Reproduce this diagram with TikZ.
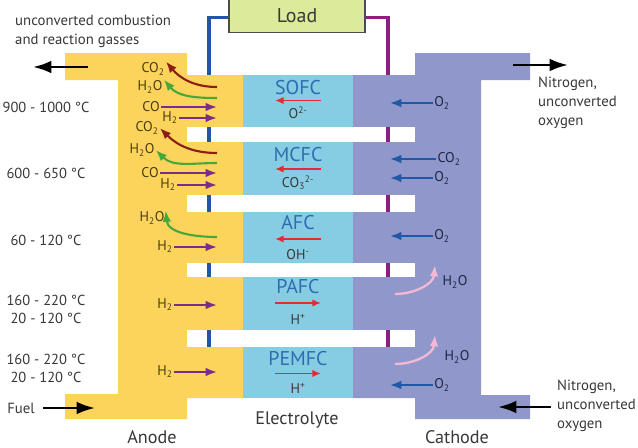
\documentclass[tikz,border=0pt]{standalone}
\usepackage{fontspec}
\setmainfont{PT Sans}
\usepackage{tikz}
\usetikzlibrary{arrows.meta,positioning,calc}
\definecolor{anodeyellow}{HTML}{FCD45C}
\definecolor{electroblue}{HTML}{86CDE3}
\definecolor{cathodeviolet}{HTML}{9097CB}
\definecolor{loadgreen}{HTML}{DCEA9C}
\definecolor{wireblue}{HTML}{1F56A6}
\definecolor{wirepurple}{HTML}{8B1E7E}
\definecolor{cellblue}{HTML}{2C6DB2}
\definecolor{ionred}{HTML}{E42A35}
\definecolor{fuelpurple}{HTML}{7A2D8C}
\definecolor{exhaustred}{HTML}{8A1E12}
\definecolor{watergreen}{HTML}{45A83A}
\definecolor{oxblue}{HTML}{2058A8}
\definecolor{steampink}{HTML}{F3B8D4}
\definecolor{textgray}{HTML}{383838}
\definecolor{anodetext}{HTML}{4A3D14}
\definecolor{cathodetext}{HTML}{1F2546}
\tikzstyle{plainlabel} = [font=\fontsize{12.6}{16.2}\selectfont, text=textgray, inner sep=0pt, align=left]
\tikzstyle{templabel} = [font=\fontsize{12.4}{15.5}\selectfont, text=textgray, inner sep=0pt, align=center]
\tikzstyle{partlabel} = [font=\fontsize{15.5}{17}\selectfont, text=textgray, inner sep=0pt]
\tikzstyle{cellname} = [font=\fontsize{17}{19}\selectfont, text=cellblue, inner sep=0pt]
\tikzstyle{ionlabel} = [font=\fontsize{12}{13}\selectfont, text=textgray, inner sep=0pt]
\tikzstyle{anchem} = [font=\fontsize{12}{13}\selectfont, text=anodetext, inner sep=1pt]
\tikzstyle{cachem} = [font=\fontsize{12}{13}\selectfont, text=cathodetext, inner sep=1pt]
\tikzstyle{loadbox} = [rectangle, draw=gray!60!black, line width=1pt, fill=loadgreen,
    minimum width=4.08cm, minimum height=1.2cm, inner ysep=0pt, text height=0.9cm,
    text depth=0.3cm, font=\fontsize{17}{19}\selectfont, text=textgray]
\tikzstyle{flowarrow} = [-{Latex[length=5.5mm,width=3.8mm]}, line width=2.2pt, black]
\tikzstyle{fuelin} = [-{Latex[length=3.4mm,width=2.6mm]}, line width=1.8pt, fuelpurple]
\tikzstyle{exhaust} = [-{Latex[length=3.4mm,width=2.6mm]}, line width=1.8pt, exhaustred]
\tikzstyle{water} = [-{Latex[length=3.4mm,width=2.6mm]}, line width=1.8pt, watergreen]
\tikzstyle{oxin} = [-{Latex[length=3.4mm,width=2.6mm]}, line width=1.8pt, oxblue]
\tikzstyle{steam} = [-{Latex[length=3.4mm,width=2.6mm]}, line width=2pt, steampink]
\tikzstyle{ionarrow} = [-{Latex[length=2.6mm,width=2.2mm]}, line width=1.4pt, ionred]
\tikzstyle{wire} = [line width=3pt]

\begin{document}
\begin{tikzpicture}[x=0.03cm, y=-0.03cm]
\useasboundingbox (0,0) rectangle (638,448);
\clip (0,0) rectangle (638,448);
\fill[white] (0,0) rectangle (638,448);

% anode, electrolyte, cathode
\fill[anodeyellow] (65,53) -- (187,53) -- (187,75) -- (243,75) -- (243,398) -- (187,398) -- (187,419)
    -- (65,419) -- (65,394) -- (118,394) -- (118,80) -- (65,80) -- cycle;
\fill[electroblue] (243,75) rectangle (353,398);
\fill[cathodeviolet] (353,75) -- (415,75) -- (415,53) -- (530,53) -- (530,80) -- (481,80) -- (481,395)
    -- (530,395) -- (530,419) -- (415,419) -- (415,398) -- (353,398) -- cycle;

% gaps between the cells
\foreach \ya/\yb in {127/142,195/212,263/277,330/347} {
  \fill[white] (187,\ya) rectangle (415,\yb);
  \draw[wire, wireblue] (209,\ya) -- (209,\yb);
  \draw[wire, wirepurple] (388,\ya) -- (388,\yb);
}

% load and wires
\node[loadbox, anchor=south] (load) at (297,33) {Load};
\coordinate (anodetop) at (209,75);
\coordinate (cathodetop) at (388,75);
\draw[wire, wireblue] ($(load.west)+(0,5)$) -| (anodetop);
\draw[wire, wirepurple] ($(load.east)+(0,5)$) -| (cathodetop);

% electrolyte
\foreach \nm/\ion/\yn/\yi/\dir [count=\i] in {SOFC/O\textsuperscript{2-}/88/113/-1,
    MCFC/CO\textsubscript{3}\textsuperscript{2-}/155/183/-1, AFC/OH\textsuperscript{-}/223/255/-1,
    PAFC/H\textsuperscript{+}/287/319/1, PEMFC/H\textsuperscript{+}/359/388/1} {
  \node[cellname] (cell\i) at (298,\yn) {\nm};
  \node[ionlabel] (ion\i) at (298,\yi) {\ion};
  \draw[ionarrow] ($(cell\i)!0.5!(ion\i)+(-23*\dir,0)$) -- ++(46*\dir,0);
}

% anode side
\coordinate (anodein) at (217,0);
\node[anchem] (co2a) at (153,69) {CO\textsubscript{2}};
\node[anchem] (h2oa) at (150,87) {H\textsubscript{2}O};
\node[anchem] (coa) at (151,107) {CO};
\node[anchem] (h2a) at (170,118) {H\textsubscript{2}};
\node[anchem] (co2b) at (147,128) {CO\textsubscript{2}};
\node[anchem] (h2ob) at (142,150) {H\textsubscript{2}O};
\node[anchem] (cob) at (150,173) {CO};
\node[anchem] (h2b) at (168,185) {H\textsubscript{2}};
\node[anchem] (h2oc) at (152,218) {H\textsubscript{2}O};
\node[anchem] (h2c) at (165,247) {H\textsubscript{2}};
\node[anchem] (h2d) at (165,305) {H\textsubscript{2}};
\node[anchem] (h2e) at (165,372) {H\textsubscript{2}};
\coordinate (outr1) at (217,87);
\coordinate (outg1) at (217,98);
\coordinate (outr2) at (217,153);
\coordinate (outg2) at (217,163);
\coordinate (outg3) at (217,237);
\draw[exhaust] (outr1) to[out=180,in=-50] (co2a.north east);
\draw[water] (outg1) to[out=180,in=-50] (h2oa.north east);
\draw[exhaust] (outr2) to[out=180,in=-45] (co2b.east);
\draw[water] (outg2) to[out=180,in=-45] (h2ob.east);
\draw[water] (outg3) to[out=180,in=-85] (h2oc.north east);
\foreach \f in {coa,h2a,cob,h2b,h2c,h2d,h2e}
  \draw[fuelin] (\f.east) -- (\f.east -| anodein);

% cathode side
\coordinate (cathodein) at (390,0);
\node[cachem] (o2a) at (442,103) {O\textsubscript{2}};
\node[cachem] (co2c) at (449,159) {CO\textsubscript{2}};
\node[cachem] (o2b) at (442,178) {O\textsubscript{2}};
\node[cachem] (o2c) at (442,236) {O\textsubscript{2}};
\node[cachem] (h2od) at (455,282) {H\textsubscript{2}O};
\node[cachem] (h2oe) at (457,357) {H\textsubscript{2}O};
\node[cachem] (o2d) at (442,385) {O\textsubscript{2}};
\foreach \o in {o2a,co2c,o2b,o2c,o2d}
  \draw[oxin] (\o.west) -- (\o.west -| cathodein);
\coordinate (steamd) at (395,294);
\coordinate (steamdend) at (435,265);
\coordinate (steame) at (395,364);
\coordinate (steameend) at (435,335);
\draw[steam] (steamd) to[out=0,in=-95] (steamdend);
\draw[steam] (steame) to[out=0,in=-95] (steameend);

% inlets and outlets
\node[plainlabel, anchor=west] (exhaustlbl) at (15,31) {unconverted combustion\\and reaction gasses};
\coordinate (anodeexit) at (88,67);
\coordinate (anodeout) at (33,67);
\draw[flowarrow] (anodeexit) -- (anodeout);
\node[plainlabel, anchor=west] (nitrogenout) at (538,103) {Nitrogen,\\unconverted\\oxygen};
\coordinate (cathodeexit) at (513,65);
\coordinate (cathodeout) at (568,65);
\draw[flowarrow] (cathodeexit) -- (cathodeout);
\node[plainlabel, anchor=east] (fuel) at (35,408) {Fuel};
\coordinate (fuelend) at (95,408);
\draw[flowarrow] ($(fuel.east)+(8,0)$) -- (fuelend);
\node[plainlabel, anchor=west] (nitrogenin) at (557,406) {Nitrogen,\\unconverted\\oxygen};
\coordinate (airend) at (498,407);
\draw[flowarrow] ($(nitrogenin.west)+(-6,1)$) -- (airend);

% temperatures
\node[templabel] (t1) at (46,107) {900 - 1000 °C};
\node[templabel] (t2) at (46,173) {600 - 650 °C};
\node[templabel] (t3) at (46,240) {60 - 120 °C};
\node[templabel] (t4) at (46,309) {160 - 220 °C\\20 - 120 °C};
\node[templabel] (t5) at (46,368) {160 - 220 °C\\20 - 120 °C};

% part names
\node[partlabel] (anodelbl) at (152,437) {Anode};
\node[partlabel] (electrolbl) at (297,420) {Electrolyte};
\node[partlabel] (cathodelbl) at (457,437) {Cathode};
\end{tikzpicture}
\end{document}
